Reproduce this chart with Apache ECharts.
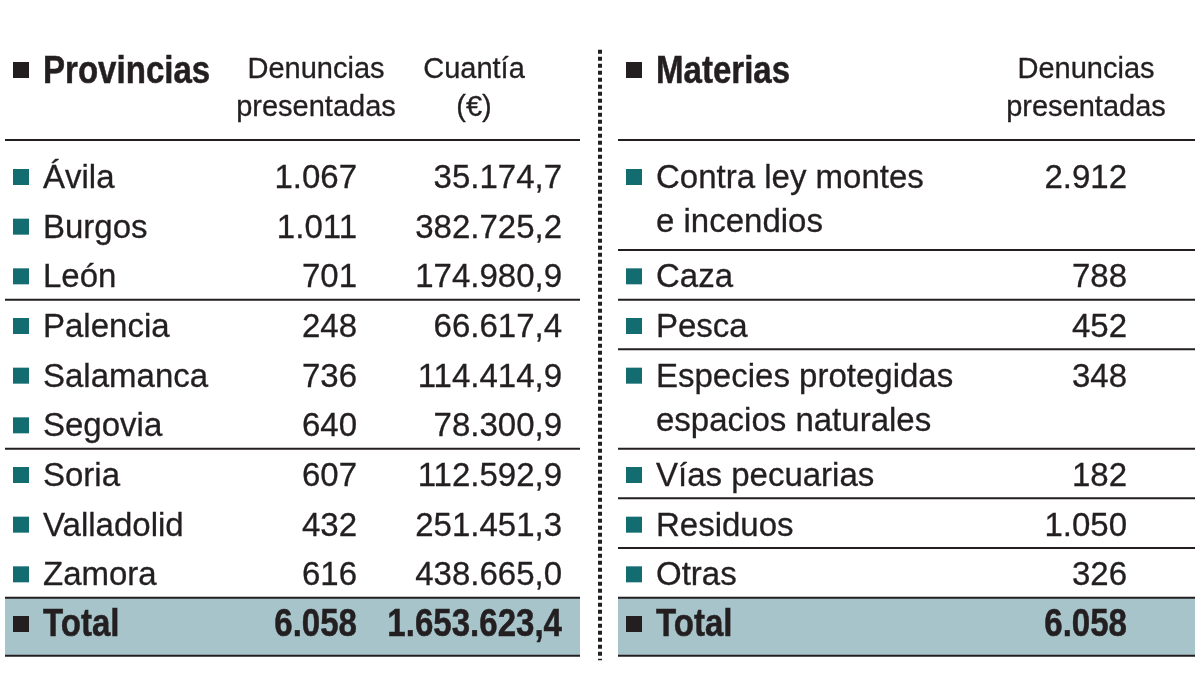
<!DOCTYPE html>
<html><head><meta charset="utf-8">
<script src="https://cdn.jsdelivr.net/npm/echarts@6/dist/echarts.min.js"></script>
<style>html,body{margin:0;padding:0;background:#fff}#c{width:1200px;height:675px}</style>
</head><body><div id="c"></div>
<script>
// ---- data ----
const provincias = ['Ávila', 'Burgos', 'León', 'Palencia', 'Salamanca', 'Segovia', 'Soria', 'Valladolid', 'Zamora'];
const denunciasProvincia = [1067, 1011, 701, 248, 736, 640, 607, 432, 616];
const cuantiaProvincia = [35174.7, 382725.2, 174980.9, 66617.4, 114414.9, 78300.9, 112592.9, 251451.3, 438665.0];
const totalDenunciasProvincia = 6058;
const totalCuantiaProvincia = 1653623.4;
const materias = ['Contra ley montes\ne incendios', 'Caza', 'Pesca', 'Especies protegidas\nespacios naturales', 'Vías pecuarias', 'Residuos', 'Otras'];
const denunciasMateria = [2912, 788, 452, 348, 182, 1050, 326];
const totalDenunciasMateria = 6058;
const tituloProvincias = 'Provincias';
const tituloMaterias = 'Materias';
const cabeceraDenuncias = ['Denuncias', 'presentadas'];
const cabeceraCuantia = ['Cuantía', '(€)'];
const etiquetaTotal = 'Total';
const grupoFilas = 3;

// ---- layout / style ----
const L = {
  sqL: 21, nameL: 43, denL: 357, cuaL: 562, hdrDenL: 316, hdrCuaL: 474, tL0: 5, tL1: 580,
  sqR: 634, nameR: 656, denR: 1127, hdrDenR: 1086, tR0: 618, tR1: 1195,
  divider: 600,
  titleRow: -2.154, hdr1: -2.195, hdr2: -1.43, hdrLine: -0.745,
  sepOff: 0.53, bandBottom: 9.64, secondLine: 0.886, dotTop: -2.56, dotBottom: 9.73
};
const C = { ink: '#231f20', teal: '#126c70', band: '#a8c4cb' };
const FONT_REG = '"Liberation Sans", Arial, sans-serif';
const FONT_BOLD = '"Liberation Sans", Arial, sans-serif';
const TXT_DY = 2;
const BOLD_SCALE_X = 0.87;

function fmt(n, dec) {
  const s = n.toFixed(dec);
  const parts = s.split('.');
  const i = parts[0].replace(/\B(?=(\d{3})+(?!\d))/g, '.');
  return parts[1] ? i + ',' + parts[1] : i;
}

const items = [];
function text(x, y, t, opt) { items.push(Object.assign({ k: 'text', x, y, t }, opt)); }
function sq(x, y, color) { items.push({ k: 'sq', x, y, color }); }
function hline(x0, x1, y) { items.push({ k: 'line', x: x0, y, x1, y1: y }); }

// header left
sq(L.sqL, L.titleRow, C.ink);
text(L.nameL, L.titleRow, tituloProvincias, { bold: true, align: 'left' });
text(L.hdrDenL, L.hdr1, cabeceraDenuncias[0], { hdr: true, align: 'center' });
text(L.hdrDenL, L.hdr2, cabeceraDenuncias[1], { hdr: true, align: 'center' });
text(L.hdrCuaL, L.hdr1, cabeceraCuantia[0], { hdr: true, align: 'center' });
text(L.hdrCuaL, L.hdr2, cabeceraCuantia[1], { hdr: true, align: 'center' });
hline(L.tL0, L.tL1, L.hdrLine);
// header right
sq(L.sqR, L.titleRow, C.ink);
text(L.nameR, L.titleRow, tituloMaterias, { bold: true, align: 'left' });
text(L.hdrDenR, L.hdr1, cabeceraDenuncias[0], { hdr: true, align: 'center' });
text(L.hdrDenR, L.hdr2, cabeceraDenuncias[1], { hdr: true, align: 'center' });
hline(L.tR0, L.tR1, L.hdrLine);

// left rows
provincias.forEach((p, i) => {
  sq(L.sqL, i, C.teal);
  text(L.nameL, i, p, { align: 'left' });
  text(L.denL, i, fmt(denunciasProvincia[i], 0), { align: 'right' });
  text(L.cuaL, i, fmt(cuantiaProvincia[i], 1), { align: 'right' });
  if ((i + 1) % grupoFilas === 0 && i < provincias.length - 1) hline(L.tL0, L.tL1, i + 1 - L.sepOff);
});
const totalRow = provincias.length;
// right rows
let slot = 0;
materias.forEach((m, i) => {
  const lines = m.split('\n');
  sq(L.sqR, slot, C.teal);
  lines.forEach((ln, k) => text(L.nameR, slot + k * L.secondLine, ln, { align: 'left' }));
  text(L.denR, slot, fmt(denunciasMateria[i], 0), { align: 'right' });
  slot += lines.length;
  if (i < materias.length - 1) hline(L.tR0, L.tR1, slot - L.sepOff);
});

// totals band
[[L.tL0, L.tL1], [L.tR0, L.tR1]].forEach(([a, b]) => {
  items.push({ k: 'rect', x: a, y: totalRow - L.sepOff, x1: b, y1: L.bandBottom, color: C.band });
  hline(a, b, totalRow - L.sepOff);
  hline(a, b, L.bandBottom);
});
sq(L.sqL, totalRow, C.ink);
text(L.nameL, totalRow, etiquetaTotal, { bold: true, align: 'left' });
text(L.denL, totalRow, fmt(totalDenunciasProvincia, 0), { bold: true, align: 'right' });
text(L.cuaL, totalRow, fmt(totalCuantiaProvincia, 1), { bold: true, align: 'right' });
sq(L.sqR, totalRow, C.ink);
text(L.nameR, totalRow, etiquetaTotal, { bold: true, align: 'left' });
text(L.denR, totalRow, fmt(totalDenunciasMateria, 0), { bold: true, align: 'right' });

// dotted divider
items.push({ k: 'dots', x: L.divider, y: L.dotTop, x1: L.divider, y1: L.dotBottom });

// draw order: rects first
const order = ['rect', 'line', 'dots', 'sq', 'text'];
items.sort((a, b) => order.indexOf(a.k) - order.indexOf(b.k));

function renderItem(params, api) {
  const d = items[params.dataIndex];
  const p = api.coord([d.x, d.y]);
  if (d.k === 'text') {
    return {
      type: 'text', x: p[0], y: p[1] + TXT_DY,
      scaleX: d.bold ? BOLD_SCALE_X : 1, scaleY: 1,
      style: {
        text: d.t, fill: C.ink, align: d.align, verticalAlign: 'middle',
        stroke: C.ink, lineWidth: d.bold ? 0.5 : 0.3,
        font: d.bold ? ('bold 38px ' + FONT_BOLD) : (d.hdr ? ('29px ' + FONT_REG) : ('33px ' + FONT_REG))
      }
    };
  }
  if (d.k === 'sq') {
    return { type: 'rect', shape: { x: p[0] - 8, y: p[1] - 8, width: 16, height: 16 }, style: { fill: d.color } };
  }
  const q = api.coord([d.x1, d.y1]);
  if (d.k === 'rect') {
    return { type: 'rect', shape: { x: p[0], y: p[1], width: q[0] - p[0], height: q[1] - p[1] }, style: { fill: d.color } };
  }
  if (d.k === 'line') {
    return { type: 'line', shape: { x1: p[0], y1: p[1], x2: q[0], y2: q[1] }, style: { stroke: C.ink, lineWidth: 2 } };
  }
  if (d.k === 'dots') {
    return { type: 'line', shape: { x1: p[0], y1: p[1], x2: q[0], y2: q[1] }, style: { stroke: C.ink, lineWidth: 4, lineDash: [4, 3] } };
  }
}

const chart = echarts.init(document.getElementById('c'), null, { renderer: 'canvas' });
chart.setOption({
  animation: false,
  backgroundColor: '#ffffff',
  grid: { left: 0, right: 0, top: 28, height: 645.67 },
  xAxis: { type: 'value', min: 0, max: 1200, show: false },
  yAxis: { type: 'value', min: -3, max: 10, inverse: true, show: false },
  series: [{
    type: 'custom', silent: true, clip: false,
    data: items.map(d => [d.x, d.y]),
    renderItem
  }]
});
</script></body></html>
